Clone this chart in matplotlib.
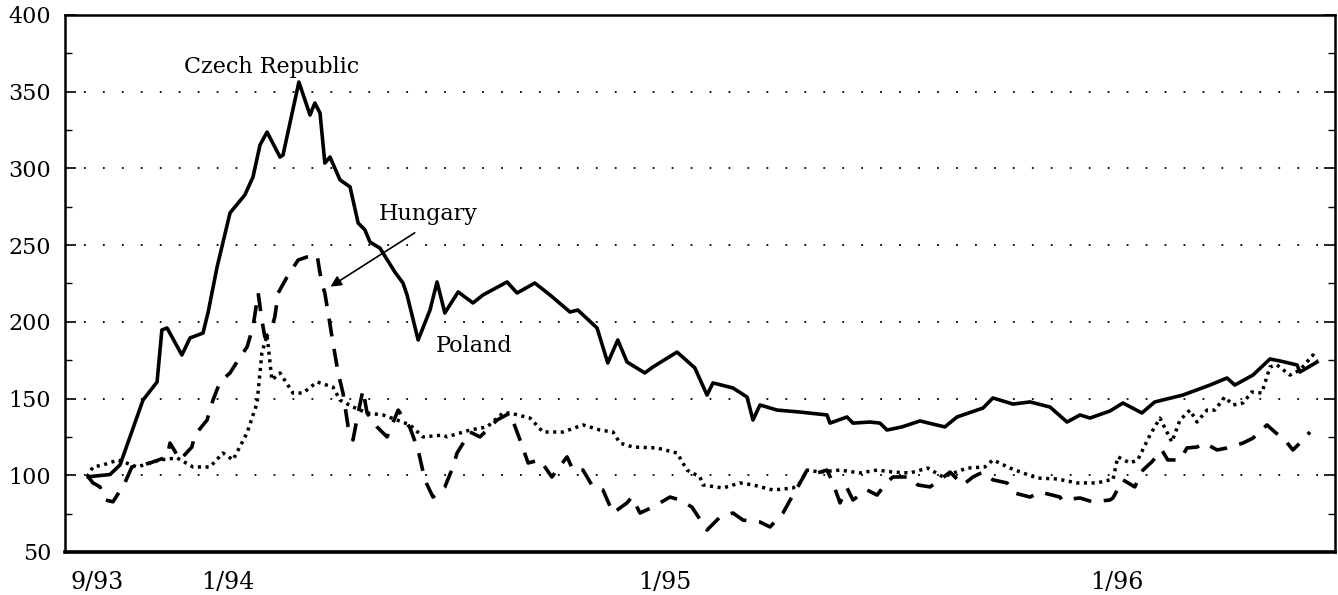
import matplotlib
matplotlib.use("Agg")
import matplotlib.pyplot as plt
from matplotlib.ticker import MultipleLocator

# Time axis: months since September 1993
solid_months = [0.22, 0.81, 1.08, 1.70, 2.08, 2.21, 2.35, 2.75, 2.97, 3.32, 3.46, 3.70, 4.05, 4.45, 4.67,
                4.86, 5.05, 5.40, 5.48, 5.91, 6.21, 6.34, 6.48, 6.61, 6.75, 7.02, 7.29, 7.51, 7.69, 7.83,
                8.10, 8.50, 8.72, 8.83, 9.13, 9.45, 9.64, 9.85, 10.21, 10.61, 10.88, 11.53, 11.80, 12.28,
                12.69, 13.23, 13.44, 13.96, 14.25, 14.52, 14.77, 15.25, 15.47, 16.12, 16.60, 16.93, 17.09,
                17.63, 18.01, 18.17, 18.36, 18.82, 19.44, 20.17, 20.25, 20.71, 20.87, 21.33, 21.60, 21.79,
                22.19, 22.68, 23.35, 23.68, 24.38, 24.65, 25.19, 25.65, 26.19, 26.65, 27.00, 27.27, 27.81,
                28.16, 28.67, 29.02, 29.78, 30.51, 30.97, 31.18, 31.67, 32.13, 32.40, 32.86, 32.94, 33.40]
solid_values = [99, 100.5, 106.7, 149, 160.8, 194.7, 196, 178.4, 189.5, 192.7, 206.4, 235.7, 271, 282.7, 294.4,
                315.3, 323.7, 307.4, 308.7, 356.3, 334.8, 342.6, 336.1, 303.5, 307.4, 292.5, 288, 264.4, 260, 252,
                248, 232.5, 225.3, 217.5, 188.2, 207.7, 226, 205.8, 219.5, 212.3, 217.5, 226, 218.8, 225.3,
                217.5, 206.4, 207.7, 196, 173.2, 188.2, 173.8, 166.7, 170.6, 180.3, 170, 152.3, 160.2,
                156.9, 151, 136, 145.8, 142.5, 141.2, 139.3, 134, 138, 134, 134.7, 134, 129.5,
                131.5, 135.4, 131.5, 138, 143.8, 150.4, 146.4, 147.8, 144.5, 134.7, 139.3, 137.3, 141.9,
                147.1, 140.6, 147.8, 152.3, 158.8, 163.4, 158.8, 165.3, 175.8, 174.5, 171.9, 167.3, 173.8]

dotted_months = [0.19, 0.35, 0.62, 1.03, 1.54, 2.16, 2.62, 3.05, 3.51, 3.86, 4.13, 4.51, 4.78, 4.91, 5.05,
                 5.18, 5.40, 5.75, 6.02, 6.40, 6.83, 7.02, 7.37, 7.75, 8.18, 8.56, 8.91, 9.26, 9.80, 9.91,
                 10.53, 10.99, 11.42, 11.61, 12.15, 12.50, 13.04, 13.58, 14.04, 14.39, 14.58, 14.93, 15.58,
                 16.12, 16.39, 16.74, 16.82, 17.36, 17.82, 18.17, 18.71, 19.25, 19.44, 19.63, 19.98, 20.52,
                 21.06, 21.52, 21.95, 22.41, 22.89, 23.30, 23.95, 24.43, 24.65, 25.11, 25.46, 25.84, 26.38,
                 26.92, 27.46, 27.81, 27.89, 28.02, 28.35, 28.56, 28.89, 29.16, 29.48, 29.70, 29.97, 30.16,
                 30.43, 30.64, 30.91, 31.13, 31.40, 31.64, 31.91, 32.13, 32.32, 32.67, 32.94, 33.29, 33.40]
dotted_values = [99, 105.4, 106.7, 110, 105.4, 110, 111.3, 105.4, 105.4, 114.5, 110, 127.6, 147.1, 179.7, 191.4,
                 162.1, 166.7, 153.6, 153.6, 160.8, 157.5, 149, 144.5, 140.6, 139.3, 136, 132.8, 125, 126.2, 125,
                 129.5, 131.5, 140.6, 140.6, 137.3, 128.2, 128.2, 132.8, 129.5, 128.2, 121, 118.4, 117.8,
                 114.5, 103.4, 98.9, 93.7, 91.7, 95, 93.7, 90.4, 91.7, 95, 103.4, 102.1, 103.4,
                 101.5, 103.4, 102.1, 101.5, 104.7, 98.9, 104.7, 105.4, 110, 104.7, 101.5, 98.2, 97.6,
                 95, 95, 97, 97, 112, 108, 110, 126.2, 137.3, 121.7, 136, 142.5, 134.7,
                 142.5, 142.5, 151, 145.8, 147.1, 154.3, 153.6, 170.6, 171.9, 165.3, 168.6, 178.4, 175.1]

dashed_months = [0.22, 0.35, 0.54, 0.67, 0.89, 1.21, 1.40, 1.89, 2.35, 2.43, 2.70, 3.02, 3.10, 3.43, 3.59,
                 3.78, 4.05, 4.32, 4.51, 4.67, 4.81, 4.91, 4.99, 5.13, 5.26, 5.35, 5.59, 5.89, 6.13, 6.40,
                 6.48, 6.53, 6.61, 6.70, 6.83, 6.97, 7.10, 7.24, 7.37, 7.51, 7.64, 7.75, 8.02, 8.29, 8.59,
                 8.91, 9.13, 9.31, 9.53, 9.85, 10.07, 10.18, 10.53, 10.80, 11.26, 11.61, 11.88, 12.10, 12.42,
                 12.74, 13.15, 13.31, 13.58, 13.85, 14.12, 14.39, 14.77, 14.90, 15.12, 15.47, 15.93, 16.20,
                 16.52, 16.93, 17.28, 17.63, 17.90, 18.36, 18.63, 18.98, 19.22, 19.44, 19.63, 19.90, 20.17,
                 20.33, 20.52, 20.71, 20.87, 21.25, 21.52, 21.79, 21.95, 22.41, 22.62, 22.95, 23.22, 23.49,
                 23.84, 24.11, 24.38, 24.65, 25.03, 25.24, 25.65, 25.92, 26.46, 26.51, 27.00, 27.35, 27.81,
                 27.89, 28.16, 28.48, 28.70, 28.94, 29.21, 29.37, 29.70, 29.89, 30.16, 30.37, 30.70, 30.97,
                 31.40, 31.67, 32.05, 32.26, 32.53, 32.75, 33.02, 33.21]
dashed_values = [99, 95, 92.4, 84, 82.7, 95, 105.4, 108, 112, 121, 110, 118.4, 126.2, 136, 149,
                 160.8, 166.7, 177, 183.6, 196.6, 218.8, 201.2, 190.1, 192.7, 203.2, 218.8, 229.2, 240.3, 242.3, 243.6,
                 231.8, 225.3, 218.8, 205.8, 186.2, 166.7, 153.6, 131.5, 123, 140.6, 155.6, 140.6, 131.5, 125, 142.5,
                 130.9, 116.5, 97, 85.8, 92.4, 105.4, 114.5, 128.2, 125, 136, 140.6, 123, 108, 110,
                 98.9, 112, 103.4, 103.4, 92.4, 90.4, 75.4, 82, 85.8, 75.4, 79.3, 85.8, 83.9,
                 79.3, 64.3, 72.8, 75.4, 70.8, 69.5, 66.3, 75.4, 85.8, 95, 103.4, 101.5, 103.4,
                 95, 82, 91.7, 83.9, 90.4, 87.1, 95.6, 98.9, 98.9, 93.7, 92.4, 97, 102.1,
                 93.7, 98.9, 102.1, 97, 95, 88.4, 85.8, 89.1, 85.8, 83.9, 85.2, 82.6, 83.9,
                 85.2, 97, 92.4, 103.4, 108.7, 116.5, 110, 110, 117.8, 118.4, 121, 116.5, 117.8,
                 121, 124.2, 132.8, 128.2, 123, 116.5, 123, 128.2]

tick_months = [0.45, 4.0, 15.8, 28.0]
tick_labels = ["9/93", "1/94", "1/95", "1/96"]
y_ticks = [50, 100, 150, 200, 250, 300, 350, 400]
grid_levels = [100, 150, 200, 250, 300, 350]

serif = ["DejaVu Serif"]

fig = plt.figure(figsize=(13.38, 5.95), dpi=100)
ax = fig.add_axes([0.0486, 0.0723, 0.949, 0.9025])
ax.set_xlim(-0.405, 33.88)
ax.set_ylim(50, 400)

for g in grid_levels:
    ax.axhline(g, color="black", lw=1.3, linestyle=(0, (1, 9.5)), zorder=1)

ax.plot(solid_months, solid_values, color="black", lw=2.6, solid_joinstyle="round", zorder=3)
ax.plot(dashed_months, dashed_values, color="black", lw=2.6, linestyle=(0, (5, 3.5)), zorder=3)
ax.plot(dotted_months, dotted_values, color="black", lw=2.5, linestyle=(0, (0.9, 1.3)), zorder=3)

ax.set_xticks(tick_months)
ax.set_xticklabels(tick_labels, fontfamily=serif, fontsize=17)
ax.tick_params(axis="x", length=0, pad=14)
ax.set_yticks(y_ticks)
ax.set_yticklabels([str(v) for v in y_ticks], fontfamily=serif, fontsize=16)
ax.yaxis.set_minor_locator(MultipleLocator(25))
ax.tick_params(axis="y", which="major", direction="in", length=8, width=1.2, right=True, pad=10)
ax.tick_params(axis="y", which="minor", direction="in", length=5, width=1.0, right=True)

for side in ["left", "right", "top"]:
    ax.spines[side].set_linewidth(1.8)
ax.spines["bottom"].set_linewidth(2.6)

ax.text(5.18, 366, "Czech Republic", fontfamily=serif, fontsize=16, ha="center", va="center")
ax.text(9.4, 270, "Hungary", fontfamily=serif, fontsize=16, ha="center", va="center")
ax.text(10.65, 184, "Poland", fontfamily=serif, fontsize=16, ha="center", va="center")
ax.annotate("", xy=(6.7, 222), xytext=(9.1, 259),
            arrowprops=dict(arrowstyle="-|>", color="black", lw=1.2, mutation_scale=16))

fig.savefig("out.png", dpi=100)
